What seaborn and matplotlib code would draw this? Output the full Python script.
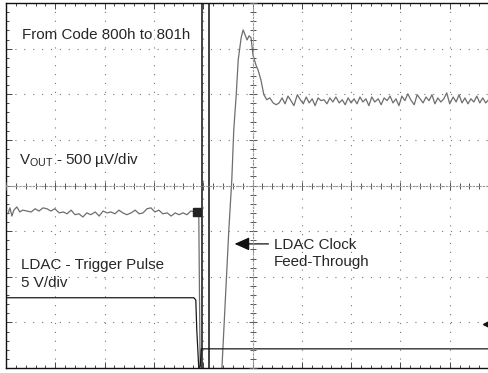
import numpy as np
import pandas as pd
import seaborn as sns
import matplotlib.pyplot as plt
from matplotlib.ticker import MultipleLocator, NullFormatter

sns.set_style('white')
plt.rcParams['font.family'] = ['Liberation Sans', 'DejaVu Sans']
plt.rcParams['mathtext.fontset'] = 'custom'
plt.rcParams['mathtext.rm'] = 'Liberation Sans'

# scope screen, values in divisions (10 x 8 grid)
vout_left_t = [0.04, 0.08, 0.12, 0.16, 0.22, 0.28, 0.34, 0.43, 0.51, 0.59,
               0.67, 0.75, 0.83, 0.91, 0.99, 1.08, 1.16, 1.24, 1.32, 1.40,
               1.48, 1.56, 1.64, 1.72, 1.81, 1.89, 1.97, 2.05, 2.13, 2.21,
               2.29, 2.37, 2.45, 2.54, 2.62, 2.70, 2.78, 2.86, 2.94, 3.02,
               3.10, 3.18, 3.27, 3.35, 3.43, 3.51, 3.59, 3.67, 3.75, 3.83, 3.89]
vout_left_v = [3.38, 3.51, 3.33, 3.46, 3.53, 3.42, 3.46, 3.44, 3.42, 3.49,
               3.44, 3.51, 3.49, 3.44, 3.49, 3.40, 3.42, 3.38, 3.46, 3.36,
               3.38, 3.31, 3.40, 3.36, 3.42, 3.33, 3.44, 3.40, 3.42, 3.38,
               3.46, 3.40, 3.36, 3.40, 3.46, 3.38, 3.40, 3.49, 3.51, 3.42,
               3.46, 3.38, 3.40, 3.33, 3.40, 3.36, 3.40, 3.36, 3.44, 3.42, 3.40]
vout_step_t = [3.91, 3.94, 4.32, 4.38, 4.46, 4.52, 4.58, 4.62, 4.67, 4.71,
               4.77, 4.81, 4.85, 4.89, 4.93, 4.97, 5.01, 5.07, 5.11, 5.17,
               5.23, 5.29, 5.35, 5.42, 5.48]
vout_step_v = [3.40, -0.30, -0.30, 0.00, 1.71, 3.03, 4.12, 5.22, 5.99, 6.75,
               7.24, 7.41, 7.30, 7.19, 7.28, 7.24, 6.86, 6.64, 6.54, 6.32,
               5.99, 5.88, 5.92, 5.81, 5.77]
vout_right_t = [5.54, 5.60, 5.66, 5.72, 5.78, 5.84, 5.91, 5.97, 6.03, 6.09,
                6.15, 6.21, 6.27, 6.33, 6.39, 6.45, 6.51, 6.57, 6.63, 6.69,
                6.76, 6.82, 6.88, 6.94, 7.00, 7.06, 7.12, 7.18, 7.24, 7.30,
                7.36, 7.42, 7.48, 7.55, 7.61, 7.67, 7.73, 7.79, 7.85, 7.91,
                7.97, 8.03, 8.09, 8.15, 8.21, 8.28, 8.34, 8.40, 8.46, 8.52,
                8.58, 8.64, 8.70, 8.76, 8.82, 8.88, 8.94, 9.00, 9.07, 9.13,
                9.19, 9.25, 9.31, 9.37, 9.43, 9.49, 9.55, 9.61, 9.67, 9.73, 9.79]
vout_right_v = [5.81, 5.92, 5.79, 5.96, 5.86, 5.75, 5.99, 5.88, 5.79, 5.94,
                5.81, 5.90, 5.75, 5.92, 5.86, 5.88, 5.79, 5.92, 5.83, 5.94,
                5.81, 5.88, 5.77, 5.92, 5.81, 5.90, 5.79, 5.94, 5.83, 5.90,
                5.75, 5.94, 5.83, 5.90, 5.77, 5.92, 5.86, 5.96, 5.81, 5.90,
                5.75, 5.96, 5.86, 6.01, 5.88, 5.77, 5.99, 5.90, 5.81, 5.94,
                5.86, 5.99, 5.79, 5.92, 5.83, 5.90, 6.03, 5.79, 5.94, 5.83,
                5.99, 5.81, 5.92, 5.79, 5.90, 5.83, 5.96, 5.81, 5.92, 5.81, 5.88]

ldac_t = [0.00, 3.81, 3.85, 3.87, 3.91, 3.94, 3.96, 10.0]
ldac_v = [1.54, 1.54, 1.49, 0.83, 0.00, 0.04, 0.42, 0.42]

cursor_t = [3.97, 4.11]

vout = pd.DataFrame({'t': vout_left_t + vout_step_t + vout_right_t,
                     'v': vout_left_v + vout_step_v + vout_right_v})
ldac = pd.DataFrame({'t': ldac_t, 'v': ldac_v})

W, H = 489, 373
fig = plt.figure(figsize=(W / 100, H / 100), dpi=100)
pos = [6 / W, 5 / H, 493 / W, 365 / H]
ax = fig.add_axes(pos)

ax.set_xlim(0, 10)
ax.set_ylim(0, 8)
ax.xaxis.set_major_locator(MultipleLocator(1))
ax.yaxis.set_major_locator(MultipleLocator(1))
ax.xaxis.set_minor_locator(MultipleLocator(0.2))
ax.yaxis.set_minor_locator(MultipleLocator(0.2))
ax.xaxis.set_major_formatter(NullFormatter())
ax.yaxis.set_major_formatter(NullFormatter())
ax.tick_params(which='both', direction='in', top=True, right=True,
               bottom=True, left=True, color='#444444', width=0.7)
ax.tick_params(which='major', length=4)
ax.tick_params(which='minor', length=2.5)
ax.grid(True, which='major', color='#777777', lw=0.8, linestyle=(0, (1, 7)))
for s in ax.spines.values():
    s.set_color('#111111')
    s.set_linewidth(1.0)

# center cross with ticks
ax2 = fig.add_axes(pos)
ax2.set_xlim(0, 10)
ax2.set_ylim(0, 8)
ax2.patch.set_visible(False)
ax2.spines['left'].set_position(('data', 5))
ax2.spines['bottom'].set_position(('data', 4))
ax2.spines['top'].set_visible(False)
ax2.spines['right'].set_visible(False)
for k in ['left', 'bottom']:
    ax2.spines[k].set_color('#999999')
    ax2.spines[k].set_linewidth(0.8)
    ax2.spines[k].set_linestyle((0, (1.2, 1.8)))
ax2.xaxis.set_major_locator(MultipleLocator(1))
ax2.yaxis.set_major_locator(MultipleLocator(1))
ax2.xaxis.set_minor_locator(MultipleLocator(0.2))
ax2.yaxis.set_minor_locator(MultipleLocator(0.2))
ax2.xaxis.set_major_formatter(NullFormatter())
ax2.yaxis.set_major_formatter(NullFormatter())
ax2.tick_params(which='both', direction='inout', bottom=True, left=True,
                color='#555555', width=0.7)
ax2.tick_params(which='major', length=6)
ax2.tick_params(which='minor', length=4.5)

sns.lineplot(data=vout, x='t', y='v', ax=ax, color='#6e6e6e', lw=0.9,
             sort=False, estimator=None)
sns.lineplot(data=ldac, x='t', y='v', ax=ax, color='#1a1a1a', lw=0.9,
             sort=False, estimator=None)
for c in cursor_t:
    ax.axvline(c, color='#111111', lw=1.1)

ax.plot(3.87, 3.42, marker='s', ms=6, color='#222222')
ax.plot(9.76, 0.96, marker='<', ms=6, color='#111111', clip_on=False)

fs = 10.9
ax.text(0.32, 7.30, 'From Code 800h to 801h', fontsize=fs, va='center')
ax.text(0.26, 4.56, r'V$_{\mathrm{OUT}}$ - 500 µV/div', fontsize=fs, va='center')
ax.text(0.30, 2.26, 'LDAC - Trigger Pulse', fontsize=fs, va='center')
ax.text(0.30, 1.86, '5 V/div', fontsize=fs, va='center')
ax.text(5.44, 2.70, 'LDAC Clock', fontsize=fs, va='center')
ax.text(5.44, 2.32, 'Feed-Through', fontsize=fs, va='center')
ax.annotate('', xy=(4.58, 2.72), xytext=(5.38, 2.72),
            arrowprops=dict(arrowstyle='-|>,head_length=0.9,head_width=0.4',
                            color='#111111', lw=0.9))

ax.set_xlabel('')
ax.set_ylabel('')
fig.savefig('out.png', dpi=100)
